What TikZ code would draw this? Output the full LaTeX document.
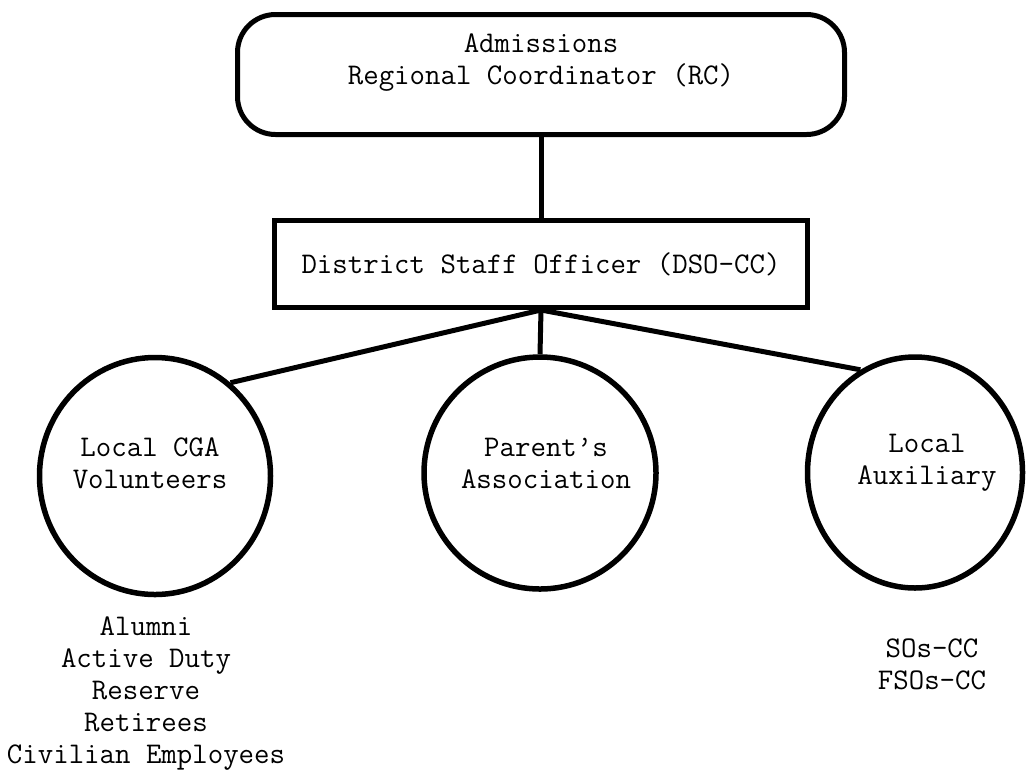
\documentclass[tikz,border=0pt]{standalone}
\usetikzlibrary{shapes.geometric}
\begin{document}
\begin{tikzpicture}[x=1pt,y=-1pt,line width=5pt,
  txt/.style={font=\fontsize{30}{32}\selectfont\ttfamily,align=center,inner sep=0pt},
  topbox/.style={draw,rounded corners=38pt,minimum width=607pt,minimum height=120pt,inner sep=0pt},
  dsobox/.style={draw,minimum width=533pt,minimum height=87pt,inner sep=0pt,font=\fontsize{30}{32}\selectfont\ttfamily},
  orb/.style={draw,ellipse,inner sep=0pt,line width=5.5pt},
  link/.style={draw,line width=5pt}]
\useasboundingbox (0,0) rectangle (1027,772);
% boxes
\node[topbox] (rc) at (541,74.5) {};
\node[txt] (rctext) at (541,63) {Admissions\\Regional Coordinator (RC)};
\node[dsobox] (dso) at (541,264) {District Staff Officer (DSO-CC)};
% circles
\node[orb,minimum width=231pt,minimum height=237pt] (cga) at (155,476) {};
\node[txt] (cgatext) at (150,463) {Local CGA\\Volunteers};
\node[orb,minimum width=232pt,minimum height=232pt] (par) at (540,473) {};
\node[txt] (partext) at (546,463) {Parent’s\\Association};
\node[orb,minimum width=215pt,minimum height=231pt] (aux) at (915,472.5) {};
\node[txt] (auxtext) at (927,463) {Local\\Auxiliary};
% lists
\node[txt] (cgalist) at (146,694) {Alumni\\Active Duty\\Reserve\\Retirees\\Civilian Employees};
\node[txt] (auxlist) at (932,664) {SOs-CC\\FSOs-CC};
% connectors
\draw[link] (rc.south) -- (dso.north);
\draw[link] (dso.south) -- (par.north);
\draw[link] (dso.south) -- (cga.51);
\draw[link] (dso.south) -- (aux.118);
\end{tikzpicture}
\end{document}
